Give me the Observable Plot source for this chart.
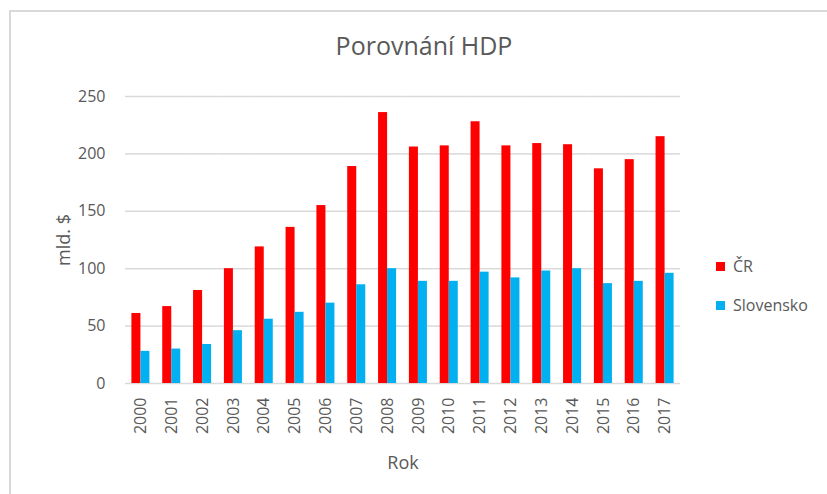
<!DOCTYPE html>
<html>
<head>
<meta charset="utf-8">
<script src="https://cdn.jsdelivr.net/npm/d3@7"></script>
<script src="https://cdn.jsdelivr.net/npm/@observablehq/plot@0.6"></script>
<style>
  html, body { margin: 0; padding: 0; background: #fff; }
  #wrap { position: relative; width: 827px; height: 494px; overflow: hidden; font-family: "Open Sans", sans-serif; color: #595959; }
  #bt { position: absolute; left: 9px; top: 10px; width: 818px; height: 2px; background: #d9d9d9; }
  #bl { position: absolute; left: 9px; top: 10px; width: 2px; height: 484px; background: #d9d9d9; }
  #title { position: absolute; left: 0; top: 28px; width: 848px; text-align: center; font-size: 25px; line-height: 34px; }
  #legend { position: absolute; left: 716px; top: 254px; font-size: 16px; }
  .li { display: flex; align-items: center; height: 24px; margin-bottom: 15px; }
  .sw { width: 9px; height: 9px; margin-right: 8px; }
  #chart { position: absolute; left: 0; top: 0; }
</style>
</head>
<body>
<div id="wrap">
  <div id="chart"></div>
  <div id="bt"></div>
  <div id="bl"></div>
  <div id="title">Porovnání HDP</div>
  <div id="legend"></div>
</div>
<script>
const years = ["2000","2001","2002","2003","2004","2005","2006","2007","2008","2009","2010","2011","2012","2013","2014","2015","2016","2017"];
const cr = [61,67,81,100,119,136,155,189,236,206,207,228,207,209,208,187,195,215];
const sk = [28,30,34,46,56,62,70,86,100,89,89,97,92,98,100,87,89,96];
const series = ["ČR","Slovensko"];
const colors = ["#ff0000","#00b0f0"];
const yTicks = [0,50,100,150,200,250];

const data = years.flatMap((y, i) => [
  {year: y, series: series[0], value: cr[i]},
  {year: y, series: series[1], value: sk[i]}
]);

const chart = Plot.plot({
  width: 827,
  height: 494,
  marginLeft: 125,
  marginRight: 147,
  marginTop: 96,
  marginBottom: 111,
  style: {fontFamily: "Open Sans", fontSize: "16px", color: "#595959", background: "transparent", overflow: "visible"},
  fx: {domain: years, padding: 0, round: false, label: null},
  x: {domain: series, paddingInner: 0, paddingOuter: 0.71, round: false, axis: null},
  y: {domain: [0, 250]},
  color: {domain: series, range: colors},
  marks: [
    Plot.ruleY(yTicks, {stroke: "#d9d9d9", strokeWidth: 1.5}),
    Plot.barY(data, {fx: "year", x: "series", y: "value", fill: "series"}),
    Plot.axisY({ticks: yTicks, tickSize: 0, tickPadding: 20, label: null, fill: "#595959"}),
    Plot.axisY({ticks: [], label: "mld. $", labelAnchor: "center", labelOffset: 68, labelArrow: "none", fontSize: 18, fill: "#595959"}),
    Plot.axisFx({anchor: "bottom", tickRotate: -90, tickSize: 0, tickPadding: 14, label: null, fill: "#595959"}),
    Plot.axisFx({anchor: "bottom", ticks: [], label: "Rok", labelAnchor: "center", labelOffset: 85, labelArrow: "none", fontSize: 18, fill: "#595959"})
  ]
});
document.getElementById("chart").appendChild(chart);

const legend = document.getElementById("legend");
series.forEach((s, i) => {
  const row = document.createElement("div");
  row.className = "li";
  const sw = document.createElement("span");
  sw.className = "sw";
  sw.style.background = colors[i];
  const t = document.createElement("span");
  t.textContent = s;
  row.appendChild(sw);
  row.appendChild(t);
  legend.appendChild(row);
});
</script>
</body>
</html>
